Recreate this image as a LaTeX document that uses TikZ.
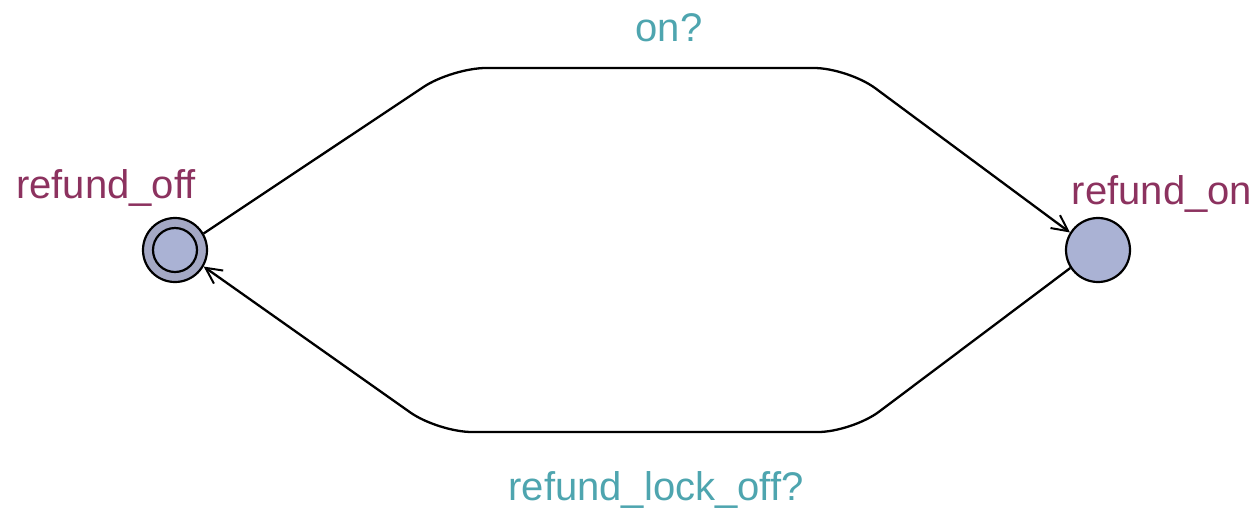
\documentclass[tikz,border=0pt]{standalone}
\usepackage{fontspec}
\setmainfont{Liberation Sans}
\usetikzlibrary{arrows.meta}
\definecolor{locfill}{RGB}{170,178,212}
\definecolor{ringfill}{RGB}{164,168,196}
\definecolor{locname}{RGB}{140,50,95}
\definecolor{synccol}{RGB}{78,165,175}
\begin{document}
\begin{tikzpicture}[x=1pt,y=-1pt,
  loc/.style={circle,draw=black,line width=2.2pt,fill=locfill,minimum size=64pt,inner sep=0pt},
  edge/.style={draw=black,line width=2.3pt,rounded corners=34pt,-{Straight Barb[length=16pt,width=16pt,line width=2pt]}},
  lname/.style={text=locname,font=\fontsize{40}{46}\selectfont,inner sep=0pt},
  slabel/.style={text=synccol,font=\fontsize{40}{46}\selectfont,inner sep=0pt}]
\useasboundingbox (0,0) rectangle (1260,512);
\node[loc,fill=ringfill] (off) at (175,250) {};
\node[circle,draw=black,line width=2.2pt,fill=locfill,minimum size=44pt,inner sep=0pt] (offin) at (175,250) {};
\node[loc] (on) at (1098,250) {};
\node[lname] (offname) at (106,188) {refund\_off};
\node[lname] (onname) at (1162,194) {refund\_on};
\coordinate (t1) at (452,68);
\coordinate (t2) at (848,68);
\coordinate (b1) at (852,432);
\coordinate (b2) at (438,432);
\draw[edge] (off.30) -- (t1) -- (t2) -- (on.148);
\draw[edge] (on.213) -- (b1) -- (b2) -- (off.-30);
\node[slabel] (onq) at (669,28) {on?};
\node[slabel] (lockq) at (656,490) {refund\_lock\_off?};
\end{tikzpicture}
\end{document}
